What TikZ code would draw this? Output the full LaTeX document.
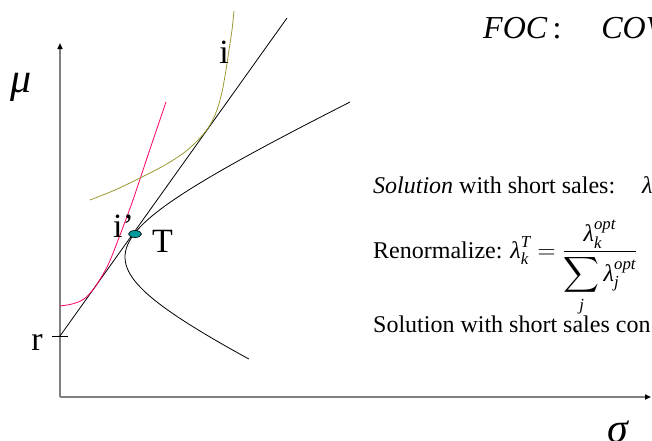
\documentclass[tikz,border=0pt]{standalone}
\usepackage{amsmath}
\usepackage{fontspec}
\setmainfont{Liberation Serif}
\usetikzlibrary{arrows.meta,shapes.geometric}
\definecolor{curvepink}{RGB}{255,0,102}
\definecolor{curveolive}{RGB}{153,153,51}
\definecolor{tealdot}{RGB}{0,153,153}
\definecolor{axisgray}{RGB}{128,128,128}
\begin{document}
\begin{tikzpicture}[x=1pt,y=-1pt,
  axisline/.style={draw=axisgray,line width=1.5pt,-{Triangle[length=6pt,width=5pt,color=black]}},
  thinline/.style={line width=0.8pt},
  curvelabel/.style={font=\fontsize{34}{38}\selectfont,inner sep=0pt},
  notetext/.style={font=\fontsize{24}{28}\selectfont,inner sep=0pt,anchor=base west}]
\useasboundingbox (0,0) rectangle (652,440);

% axes
\coordinate (O) at (60,397);
\coordinate (ytop) at (60,43);
\coordinate (xend) at (651,397);
\draw[axisline] (O) -- (ytop);
\draw[axisline] (O) -- (xend);
\node[font=\fontsize{42}{46}\selectfont\itshape,inner sep=0pt,anchor=base] (mu) at (21,92) {μ};
\node[font=\fontsize{42}{46}\selectfont\itshape,inner sep=0pt,anchor=base] (sigma) at (618,442) {σ};

% risk free rate and tangent line
\coordinate (r) at (60,336);
\coordinate (rtickl) at (52,336);
\coordinate (rtickr) at (68,336);
\coordinate (tanend) at (287,18);
\draw[thinline] (rtickl) -- (rtickr);
\draw[thinline] (r) -- (tanend);
\node[curvelabel,anchor=base] (rlab) at (37,350) {r};

% frontier
\draw[thinline] plot[domain=359:102,samples=80,variable=\t] ({10*sqrt(156.25+4.45*((\t-257)/10)^2)},\t);

% indifference curves
\draw[curvepink,thinline] plot[smooth] coordinates {(60,306) (72,304) (84,299) (95,287) (108,265) (120,235) (133,200) (148,155) (166,102)};
\draw[curveolive,thinline] plot[smooth] coordinates {(90,200) (115,190) (140,178) (165,165) (185,152) (200,138) (210,125) (217,110) (222,92) (226,70) (229,50) (232,30) (234,11)};

% tangency portfolio
\node[ellipse,draw,fill=tealdot,minimum width=13pt,minimum height=7pt,inner sep=0pt,line width=0.6pt] (T) at (135,234) {};
\node[curvelabel,anchor=base west] (Tlab) at (152,252) {T};
\node[curvelabel,anchor=base] (ilab) at (224,63) {i};
\node[curvelabel,anchor=base west] (iplab) at (113,237) {i’};

% notes
\node[font=\fontsize{32}{36}\selectfont,inner sep=0pt,anchor=base west] (foc) at (483,38) {\textit{FOC}\hspace{5pt}:\hspace{40pt}\textit{COV}};
\node[notetext] (sol) at (373,193) {\textit{Solution} with short sales:\hspace{27pt}\textit{λ}};
\node[notetext] (renorm) at (373,258) {Renormalize: $\textit{λ}_{\textit{k}}^{\textit{T}}=\dfrac{\textit{λ}_{\textit{k}}^{\textit{opt}}}{\displaystyle\sum_{\textit{j}}\textit{λ}_{\textit{j}}^{\textit{opt}}}$};
\node[notetext] (sol2) at (373,332) {Solution with short sales con};
\end{tikzpicture}
\end{document}
